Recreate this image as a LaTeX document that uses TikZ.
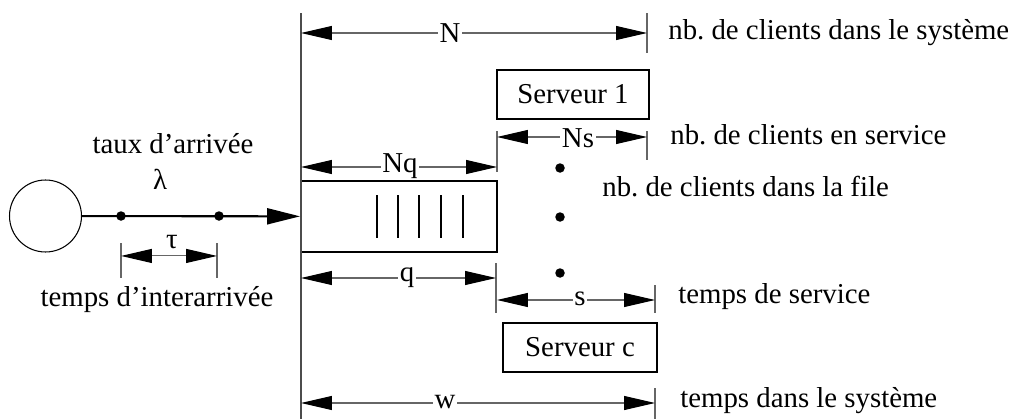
\documentclass[tikz,border=0pt]{standalone}
\usepackage{fontspec}
\setmainfont{Liberation Serif}
\usetikzlibrary{arrows.meta,calc,positioning}

\begin{document}
\begin{tikzpicture}[x=0.02cm, y=-0.02cm, font=\fontsize{16.4}{19}\selectfont,
  dim/.style={black!60, line width=0.6pt, {Triangle[length=0.62cm,width=0.28cm,color=black]}-{Triangle[length=0.62cm,width=0.28cm,color=black]}},
  tick/.style={black!60, line width=0.6pt},
  lbl/.style={fill=white, inner sep=1pt, text=black},
  note/.style={anchor=west, inner sep=0pt},
  server/.style={rectangle, draw, line width=1.1pt, minimum width=3.04cm, minimum height=0.98cm},
  dot/.style={circle, fill, inner sep=0pt, minimum size=0.19cm}]
\useasboundingbox (0,0) rectangle (1021,419);

% arrivees
\node[circle, draw, line width=0.6pt, minimum size=1.44cm, inner sep=0pt] (src) at (45.5,216) {};
\node[rectangle, draw, line width=1.1pt, minimum width=3.92cm, minimum height=1.42cm] (file) at (399,216.5) {};
\foreach \x in {377,398,419,441,463}
  \draw[line width=1.1pt] (\x,195) -- (\x,238);
\node[dot] (c1) at (121,216) {};
\node[dot] (c2) at (219,216) {};
\draw[line width=1.2pt, -{Triangle[length=0.66cm,width=0.32cm]}] (src) -- (file);

\node (taux) at (173,144) {taux d'arrivée};
\node (lambda) at (160,179) {λ};

\coordinate (t1) at (121,243); \coordinate (t1b) at (121,278);
\coordinate (t2) at (217,243); \coordinate (t2b) at (217,278);
\draw[tick] (t1) -- (t1b);
\draw[tick] (t2) -- (t2b);
\draw[dim] ($(t1)!0.37!(t1b)$) -- ($(t2)!0.37!(t2b)$);
\node (tau) at (172,242) {τ};
\node (inter) at (157,300) {temps d'interarrivée};

% serveurs
\node[server] (s1) at (573,94.5) {Serveur 1};
\node[server, minimum width=3.08cm] (sc) at (580,347.5) {Serveur c};
\node[dot] (d1) at (560,168) {};
\node[dot] (d2) at (560,217) {};
\node[dot] (d3) at (560,273) {};

% cotes
\coordinate (top) at (301,13); \coordinate (bot) at (301,419);
\draw[black!70, line width=0.6pt] (top) -- (bot);

\coordinate (nA) at (301,33); \coordinate (nB) at (647,33);
\draw[tick] (647,13) -- (647,53);
\draw[dim] (nA) -- (nB);
\node[lbl] (nlab) at (450,33) {N};
\node[note] (nsys) at (668,33) {nb.\ de clients dans le système};

\coordinate (nsA) at (497,137); \coordinate (nsB) at (647,137);
\draw[tick] (497,131) -- (497,172);
\draw[tick] (647,131) -- (647,160);
\draw[dim] (nsA) -- (nsB);
\node[lbl] (nslab) at (578,138) {Ns};
\node[note] (nserv) at (670,135) {nb.\ de clients en service};

\coordinate (nqA) at (301,167); \coordinate (nqB) at (497,167);
\draw[dim] (nqA) -- (nqB);
\node[lbl] (nqlab) at (400,166) {Nq};
\node[note] (nfile) at (602,187) {nb.\ de clients dans la file};

\coordinate (qA) at (301,278); \coordinate (qB) at (496,278);
\draw[tick] (496,263) -- (496,313);
\draw[dim] (qA) -- (qB);
\node[lbl] (qlab) at (407,278) {q};

\coordinate (sA) at (497,300); \coordinate (sB) at (655,300);
\draw[tick] (655,285) -- (655,313);
\draw[dim] (sA) -- (sB);
\node[lbl] (slab) at (580,299) {s};
\node[note] (tserv) at (678,297) {temps de service};

\coordinate (wA) at (301,403); \coordinate (wB) at (655,403);
\draw[tick] (655,388) -- (655,419);
\draw[dim] (wA) -- (wB);
\node[lbl] (wlab) at (445,402) {w};
\node[note] (tsys) at (680,401) {temps dans le système};
\end{tikzpicture}
\end{document}
